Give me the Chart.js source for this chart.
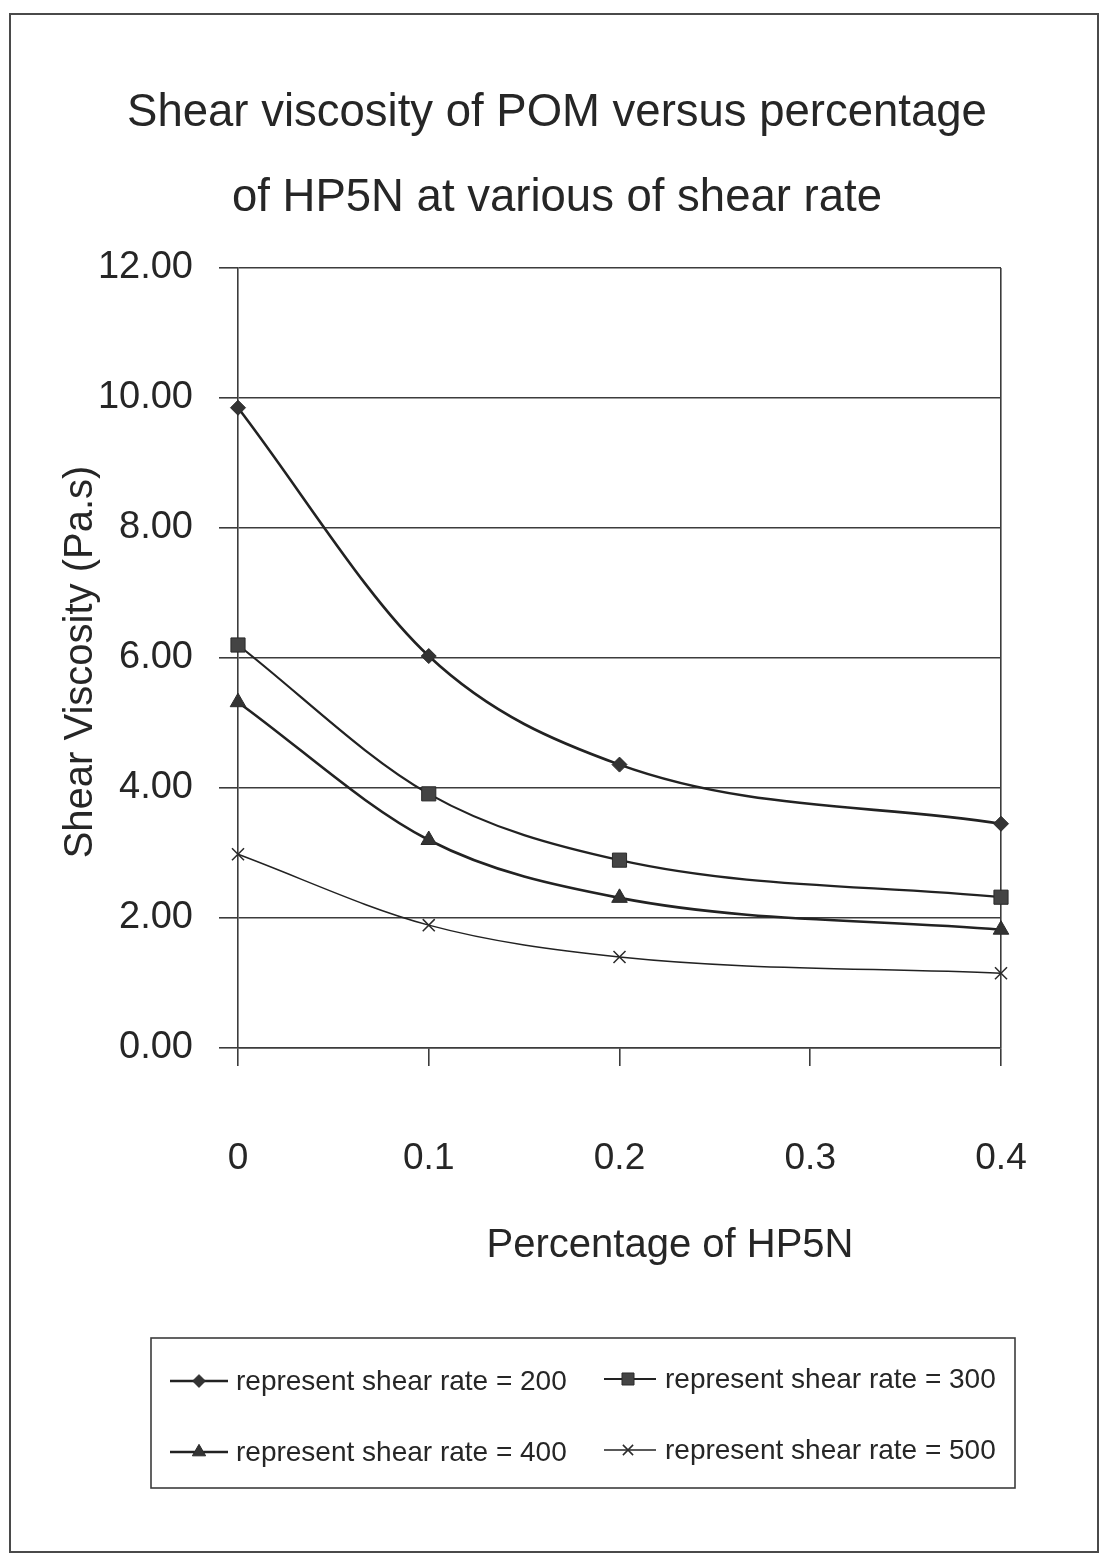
<!DOCTYPE html>
<html>
<head>
<meta charset="utf-8">
<title>Shear viscosity of POM versus percentage of HP5N</title>
<script src="https://cdn.jsdelivr.net/npm/chart.js@4.4.1/dist/chart.umd.min.js"></script>
<style>
  html, body { margin: 0; padding: 0; background: #ffffff; }
  #wrap { width: 1105px; height: 1555px; position: relative; }
  canvas { display: block; }
</style>
</head>
<body>
<div id="wrap"><canvas id="chart" width="1105" height="1555"></canvas></div>
<script>
// Percentage of HP5N for each measurement
const hp5nPercent = [0, 0.1, 0.2, 0.4];

// Shear viscosity (Pa.s) at each shear rate
const rate200 = [9.85, 6.03, 4.36, 3.45];
const rate300 = [6.20, 3.91, 2.89, 2.32];
const rate400 = [5.32, 3.20, 2.31, 1.82];
const rate500 = [2.98, 1.89, 1.40, 1.15];

const seriesNames = [
  'represent shear rate = 200',
  'represent shear rate = 300',
  'represent shear rate = 400',
  'represent shear rate = 500'
];

const xTickLabels = ['0', '0.1', '0.2', '0.3', '0.4'];
const yTickLabels = ['0.00', '2.00', '4.00', '6.00', '8.00', '10.00', '12.00'];

const titleLines = ['Shear viscosity of POM versus percentage', 'of HP5N at various of shear rate'];
const xTitle = 'Percentage of HP5N';
const yTitle = 'Shear Viscosity (Pa.s)';

const FONT = '"Liberation Sans", Arial, Helvetica, sans-serif';
const INK = '#262626';
const RULE = '#3c3c3c';

function points(values) {
  return values.map((v, i) => ({ x: hp5nPercent[i], y: v }));
}

const styles = [
  { pointStyle: 'rectRot',  radius: 7.5, lineWidth: 2.6, fill: '#333333', pointBorderWidth: 1 },
  { pointStyle: 'rect',     radius: 10,  lineWidth: 2.2, fill: '#444444', pointBorderWidth: 1 },
  { pointStyle: 'triangle', radius: 9,   lineWidth: 2.6, fill: '#333333', pointBorderWidth: 1 },
  { pointStyle: 'crossRot', radius: 8.5, lineWidth: 1.5, fill: '#333333', pointBorderWidth: 1.5 }
];

const allValues = [rate200, rate300, rate400, rate500];

const datasets = allValues.map((vals, i) => ({
  label: seriesNames[i],
  data: points(vals),
  borderColor: '#222222',
  borderWidth: styles[i].lineWidth,
  cubicInterpolationMode: 'monotone',
  fill: false,
  clip: false,
  pointStyle: styles[i].pointStyle,
  pointRadius: styles[i].radius,
  pointBackgroundColor: styles[i].fill,
  pointBorderColor: '#2a2a2a',
  pointBorderWidth: styles[i].pointBorderWidth
}));

// Outer frame, titles, axis titles and the boxed legend
const decorations = {
  id: 'decorations',
  afterDraw(chart) {
    const ctx = chart.ctx;
    ctx.save();

    // page frame
    ctx.strokeStyle = '#4a4a4a';
    ctx.lineWidth = 2;
    ctx.strokeRect(10, 14, 1088, 1538);

    // title
    ctx.fillStyle = INK;
    ctx.font = '45.5px ' + FONT;
    ctx.textAlign = 'center';
    ctx.textBaseline = 'alphabetic';
    ctx.fillText(titleLines[0], 557, 126);
    ctx.fillText(titleLines[1], 557, 211);

    // x axis title
    ctx.font = '40px ' + FONT;
    ctx.fillText(xTitle, 670, 1257);

    // y axis title
    ctx.save();
    ctx.translate(92, 662);
    ctx.rotate(-Math.PI / 2);
    ctx.fillText(yTitle, 0, 0);
    ctx.restore();

    // legend box
    ctx.strokeStyle = RULE;
    ctx.lineWidth = 1.6;
    ctx.strokeRect(151, 1338, 864, 150);

    const slots = [
      { x0: 170, x1: 228, mx: 199, tx: 236, y: 1381 },
      { x0: 604, x1: 656, mx: 628, tx: 665, y: 1379 },
      { x0: 170, x1: 228, mx: 199, tx: 236, y: 1452 },
      { x0: 604, x1: 656, mx: 628, tx: 665, y: 1450 }
    ];
    ctx.font = '28px ' + FONT;
    ctx.textAlign = 'left';
    ctx.textBaseline = 'middle';
    chart.data.datasets.forEach((ds, i) => {
      const s = slots[i];
      ctx.strokeStyle = '#222222';
      ctx.lineWidth = ds.borderWidth;
      ctx.beginPath();
      ctx.moveTo(s.x0, s.y);
      ctx.lineTo(s.x1, s.y);
      ctx.stroke();
      ctx.fillStyle = ds.pointBackgroundColor;
      ctx.strokeStyle = ds.pointBorderColor;
      ctx.lineWidth = ds.pointBorderWidth;
      Chart.helpers.drawPoint(ctx, {
        pointStyle: ds.pointStyle,
        radius: ds.pointRadius * 0.85,
        rotation: 0,
        borderWidth: ds.pointBorderWidth
      }, s.mx, s.y);
      ctx.fillStyle = INK;
      ctx.fillText(ds.label, s.tx, s.y + 1);
    });

    ctx.restore();
  }
};

const lastX = xTickLabels.length - 1;

new Chart(document.getElementById('chart'), {
  type: 'line',
  data: { datasets },
  options: {
    responsive: false,
    animation: false,
    events: [],
    layout: { padding: { left: 0, top: 268, right: 104, bottom: 0 } },
    plugins: {
      legend: { display: false },
      title: { display: false },
      tooltip: { enabled: false }
    },
    scales: {
      x: {
        type: 'linear',
        min: 0,
        max: 0.4,
        afterFit(scale) { scale.height = 1555 - 1048; },
        afterBuildTicks(scale) {
          scale.ticks = xTickLabels.map((t, i) => ({ value: i * 0.1 }));
        },
        ticks: {
          callback: (v, i) => xTickLabels[i],
          color: INK,
          font: { family: FONT, size: 37 },
          padding: 71,
          maxRotation: 0,
          autoSkip: false
        },
        grid: {
          color: (c) => (c.index === lastX ? RULE : 'rgba(0,0,0,0)'),
          tickColor: RULE,
          tickLength: 18,
          lineWidth: 1.6
        },
        border: { display: true, color: RULE, width: 1.6 }
      },
      y: {
        type: 'linear',
        min: 0,
        max: 12,
        afterFit(scale) { scale.width = 238; },
        ticks: {
          stepSize: 2,
          callback: (v, i) => yTickLabels[i],
          color: INK,
          font: { family: FONT, size: 38 },
          padding: 26
        },
        grid: {
          color: RULE,
          tickColor: RULE,
          tickLength: 19,
          lineWidth: 1.6
        },
        border: { display: true, color: RULE, width: 1.6 }
      }
    }
  },
  plugins: [decorations]
});
</script>
</body>
</html>
